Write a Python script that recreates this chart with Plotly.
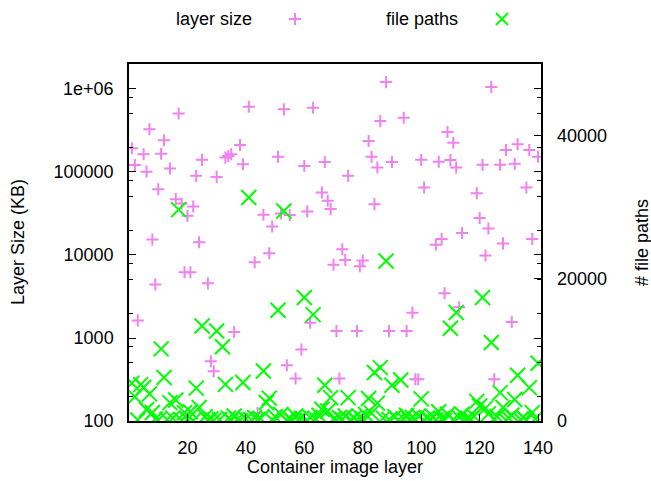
import plotly.graph_objects as go

# ---------------- data ----------------
size_layers = [1,2,3,5,6,7,8,9,10,11,12,14,16,17,18,19,20,21,22,23,24,25,27,28,29,30,33,34,35,36,
               38,39,41,43,44,46,48,49,51,52,53,54,55,57,59,60,61,62,63,66,67,68,69,70,71,72,73,74,75,78,
               79,80,82,83,84,85,86,88,89,90,94,95,97,98,99,100,101,105,106,107,108,109,110,111,112,113,114,119,120,121,
               122,123,124,125,127,128,129,131,132,133,136,137,138,140]
layer_size_kb = [193000,121000,1630,164000,101000,327000,15400,4420,62100,166000,
                 241000,110000,47100,508000,41800,6200,29700,6200,38500,89800,
                 14200,140000,4570,525,398,87300,149000,156000,164000,1180,
                 211000,124000,610000,8170,125,30600,10500,22100,153000,31700,
                 568000,470,30300,326,726,118000,33500,1530,593000,56600,
                 132000,45000,35700,7610,1210,326,11700,8730,89800,1210,
                 7310,8570,236000,153000,41000,113000,410000,1210000,1210,132000,
                 450000,1210,2020,319,319,140000,65000,13300,133000,15600,
                 3470,303000,139000,225000,113000,2350,18400,55600,27900,122000,
                 9840,20900,1060000,319,122000,13800,184000,1560,126000,216000,
                 65000,184000,15600,153000]

path_layers = list(range(1, 141))
file_paths = [5300,3400,150,5100,4700,1600,3800,1200,300,100,
              10100,6100,200,2570,400,2940,29600,100,1175,250,
              1300,50,4600,1900,13300,600,150,300,80,12600,
              200,10400,5130,400,100,700,200,50,5400,300,
              31300,100,500,200,350,7000,2600,3200,150,600,
              15500,900,29400,100,300,50,700,200,400,17300,
              100,500,14900,250,800,1640,5000,1400,3270,300,
              100,500,200,700,3270,150,400,100,600,300,
              900,3150,1100,6800,2500,7470,400,22400,200,5000,
              600,100,5750,300,800,150,500,200,700,3100,
              100,400,250,600,150,1300,300,100,940,13000,
              200,15200,500,940,100,400,250,700,2750,2100,
              17300,1800,1000,11000,300,600,3970,1900,100,400,
              800,3000,6400,200,500,100,4670,1170,300,8100]

x_ticks = [20, 40, 60, 80, 100, 120, 140]
y_ticks = [100, 1000, 10000, 100000, 1000000]
y_tick_labels = ["100", "1000", "10000", "100000", "1e+06"]
y2_ticks = [0, 20000, 40000]
y2_tick_labels = ["0", "20000", "40000"]

PINK = "#EE82EE"
GREEN = "#00FF00"
FONT = "Liberation Sans, Arial, sans-serif"
FS = 18

# ---------------- figure ----------------
W, H = 651, 481
L, R, T, B = 129, 110, 64, 60
pw, ph = W - L - R, H - T - B

def px(x):
    return (x - L) / pw

def py(y):
    return (H - B - y) / ph

fig = go.Figure()
fig.add_trace(go.Scatter(
    x=size_layers, y=layer_size_kb, mode="markers", name="layer size",
    marker=dict(symbol="cross-thin", size=8.6, color=PINK,
                line=dict(color=PINK, width=2)),
    yaxis="y", cliponaxis=True))
fig.add_trace(go.Scatter(
    x=path_layers, y=file_paths, mode="markers", name="file paths",
    marker=dict(symbol="x-thin", size=15, color=GREEN,
                line=dict(color=GREEN, width=2)),
    yaxis="y2", cliponaxis=True))

minor_vals = []
for d in [100, 1000, 10000, 100000, 1000000]:
    for m in (2, 5, 8):
        minor_vals.append(d * m)

fig.update_layout(
    width=W, height=H,
    margin=dict(l=L, r=R, t=T, b=B, pad=0),
    paper_bgcolor="white", plot_bgcolor="white",
    showlegend=False,
    font=dict(family=FONT, size=FS, color="black"),
    xaxis=dict(range=[0, 141], tickvals=x_ticks, ticks="inside", ticklen=7,
               tickwidth=1, tickcolor="black", showgrid=False, zeroline=False,
               showline=True, linecolor="black", linewidth=1.5, mirror=True,
               ticklabelstandoff=10),
    yaxis=dict(type="log", range=[2, 6.301], tickvals=y_ticks, ticktext=y_tick_labels,
               ticks="inside", ticklen=7, tickwidth=1, tickcolor="black",
               showgrid=False, zeroline=False, showline=True, linecolor="black",
               linewidth=1.5, mirror="ticks", ticklabelstandoff=10,
               minor=dict(tickvals=minor_vals, ticks="inside", ticklen=4,
                          tickcolor="black", tickwidth=1, showgrid=False)),
    yaxis2=dict(overlaying="y", side="right", range=[0, 50000], tickvals=y2_ticks,
                ticktext=y2_tick_labels,
                ticks="inside", ticklen=7, tickwidth=1, tickcolor="black",
                showgrid=False, zeroline=False, showline=False,
                ticklabelstandoff=15),
)

ann = []
ann.append(dict(text="Layer Size (KB)", textangle=-90, x=px(18), y=py(242),
                xref="paper", yref="paper", showarrow=False, xanchor="center", yanchor="middle"))
ann.append(dict(text="# file paths", textangle=-90, x=px(642), y=py(243),
                xref="paper", yref="paper", showarrow=False, xanchor="center", yanchor="middle"))
ann.append(dict(text="Container image layer", x=px(335), y=py(467),
                xref="paper", yref="paper", showarrow=False, xanchor="center", yanchor="middle"))
ann.append(dict(text="layer size", x=px(254), y=py(19), xref="paper", yref="paper",
                showarrow=False, xanchor="right", yanchor="middle"))
ann.append(dict(text="file paths", x=px(460), y=py(19), xref="paper", yref="paper",
                showarrow=False, xanchor="right", yanchor="middle"))
fig.update_layout(annotations=ann)

shapes = []
# legend key "+"
cx, cy, r = 295, 19, 6
shapes.append(dict(type="line", xref="paper", yref="paper", x0=px(cx - r), x1=px(cx + r),
                   y0=py(cy), y1=py(cy), line=dict(color=PINK, width=2)))
shapes.append(dict(type="line", xref="paper", yref="paper", x0=px(cx), x1=px(cx),
                   y0=py(cy - r), y1=py(cy + r), line=dict(color=PINK, width=2)))
# legend key "x"
cx, cy, r = 502, 19, 6
shapes.append(dict(type="line", xref="paper", yref="paper", x0=px(cx - r), x1=px(cx + r),
                   y0=py(cy - r), y1=py(cy + r), line=dict(color=GREEN, width=2)))
shapes.append(dict(type="line", xref="paper", yref="paper", x0=px(cx - r), x1=px(cx + r),
                   y0=py(cy + r), y1=py(cy - r), line=dict(color=GREEN, width=2)))
fig.update_layout(shapes=shapes)

fig.write_html("out.html", config={"displayModeBar": False},
               post_script="document.body.style.margin='0';document.body.style.padding='0';")
